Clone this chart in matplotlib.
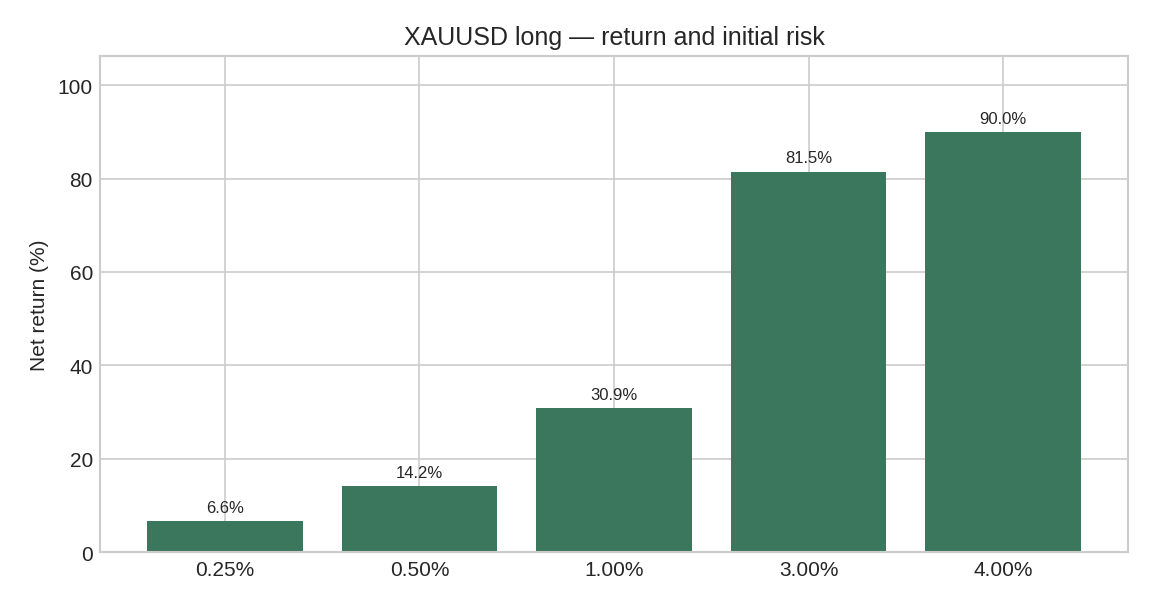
import matplotlib

matplotlib.use("Agg")

import matplotlib.pyplot as plt  # noqa: E402

risk_labels = ["0.25%", "0.50%", "1.00%", "3.00%", "4.00%"]
net_return = [6.6, 14.2, 30.9, 81.5, 90.0]

plt.style.use("seaborn-v0_8-whitegrid")
plt.rcParams["font.family"] = ["Liberation Sans", "DejaVu Sans"]

fig, ax = plt.subplots(figsize=(7.68, 4.053), dpi=150)
fig.subplots_adjust(left=0.087, right=0.979, bottom=0.09, top=0.906)

x = list(range(len(risk_labels)))
bars = ax.bar(x, net_return, width=0.8, color="#3b775c", zorder=2)
for rect, val in zip(bars, net_return):
    ax.annotate(
        f"{val:.1f}%",
        (rect.get_x() + rect.get_width() / 2, rect.get_height()),
        xytext=(0, 3),
        textcoords="offset points",
        ha="center",
        va="bottom",
        fontsize=8,
        color="#262626",
        zorder=3,
    )

ax.set_xticks(x)
ax.set_xticklabels(risk_labels)
ax.set_ylim(0, max(net_return) * 1.18)
ax.set_ylabel("Net return (%)")
ax.set_title("XAUUSD long — return and initial risk", fontsize=12)
for spine in ax.spines.values():
    spine.set_visible(True)
    spine.set_color("#cccccc")

fig.savefig("out.png", dpi=150)
